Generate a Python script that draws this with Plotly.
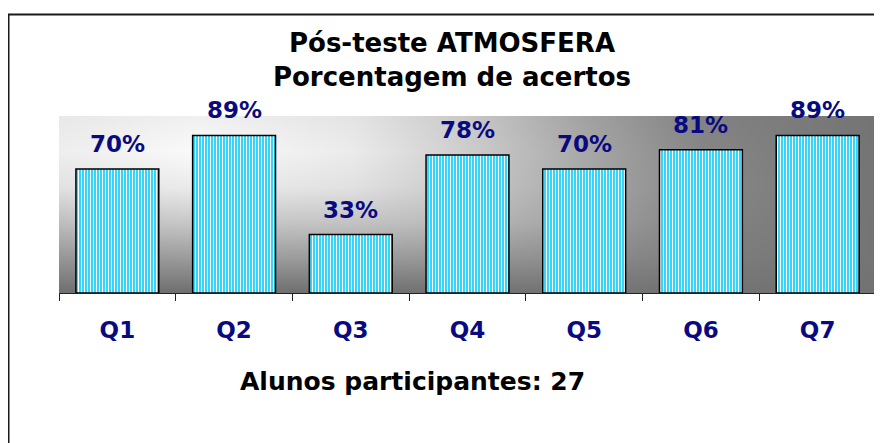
import plotly.graph_objects as go

# ---- data ----
categories = ["Q1", "Q2", "Q3", "Q4", "Q5", "Q6", "Q7"]
acertos = [70, 89, 33, 78, 70, 81, 89]
label_texts = [f"{v}%" for v in acertos]
title_lines = ["Pós-teste ATMOSFERA", "Porcentagem de acertos"]
footer_text = "Alunos participantes: 27"

# ---- background gradient (styling only) ----
bg_x = [-0.5, 0.7, 2.0, 3.0, 4.0, 5.0, 6.5]
bg_y = [0, 20, 40, 60, 80, 100]
# gray levels, rows = bg_y (bottom->top), cols = bg_x
bg_gray = [
    [110, 110, 110, 112, 114, 114, 114],
    [150, 155, 155, 150, 140, 125, 116],
    [190, 200, 195, 185, 160, 132, 116],
    [225, 235, 225, 200, 168, 136, 116],
    [238, 250, 235, 205, 168, 134, 116],
    [232, 240, 228, 200, 162, 130, 116],
]

xpos = list(range(len(categories)))

# page body has an 8px margin -> figure is 8px smaller and shifted
W, H = 874, 435

fig = go.Figure()

fig.add_trace(go.Heatmap(
    x=bg_x, y=bg_y, z=bg_gray, zsmooth="best",
    colorscale=[[0, "rgb(0,0,0)"], [1, "rgb(255,255,255)"]],
    zmin=0, zmax=255, showscale=False, hoverinfo="skip",
))

fig.add_trace(go.Bar(
    x=xpos, y=acertos, width=0.71,
    marker=dict(
        color="#38d4f8",
        line=dict(color="black", width=1.5),
        pattern=dict(shape="|", fgcolor="white", bgcolor="#38d4f8",
                     size=3, solidity=0.33, fillmode="replace"),
    ),
    hoverinfo="skip",
))

for xi, v, t in zip(xpos, acertos, label_texts):
    fig.add_annotation(
        x=xi, y=v, xref="x", yref="y", text=f"<b>{t}</b>",
        showarrow=False, yanchor="bottom", yshift=10,
        font=dict(family="DejaVu Sans", size=23, color="#0a0a80"),
    )

fig.add_annotation(
    xref="paper", yref="paper", x=0.433, y=-0.50, text=f"<b>{footer_text}</b>",
    showarrow=False, xanchor="center", yanchor="middle",
    font=dict(family="DejaVu Sans", size=25, color="black"),
)

boundaries = [i - 0.5 for i in range(len(categories) + 1)]

fig.update_layout(
    width=W, height=H,
    margin=dict(l=51, r=6, t=108, b=150),
    paper_bgcolor="white", plot_bgcolor="white",
    showlegend=False,
    title=dict(
        text="<b>" + "<br>".join(title_lines) + "</b>",
        x=444 / W, xanchor="center", xref="container",
        y=1 - 44 / H, yanchor="middle", yref="container",
        font=dict(family="DejaVu Sans", size=26, color="black"),
    ),
    xaxis=dict(
        range=[-0.5, 6.5], tickvals=xpos,
        ticktext=[f"<b>{c}</b>" for c in categories],
        ticks="", showgrid=False, zeroline=False,
        showline=True, linecolor="#222", linewidth=1,
        tickfont=dict(family="DejaVu Sans", size=23, color="#0a0a80"),
        ticklabelstandoff=16,
        minor=dict(tickvals=boundaries, ticks="outside", ticklen=7,
                   tickcolor="#222", tickwidth=1, showgrid=False),
    ),
    yaxis=dict(range=[0, 100], visible=False, showgrid=False, zeroline=False),
    shapes=[dict(
        type="rect", xref="paper", yref="paper",
        x0=(0.5 - 51) / 817, x1=(890 - 51) / 817,
        y0=(285 - 460) / 177, y1=(285 - 6.5) / 177,
        line=dict(color="#1a1a1a", width=2), fillcolor="rgba(0,0,0,0)",
        layer="above",
    )],
)

fig.write_html("out.html")
